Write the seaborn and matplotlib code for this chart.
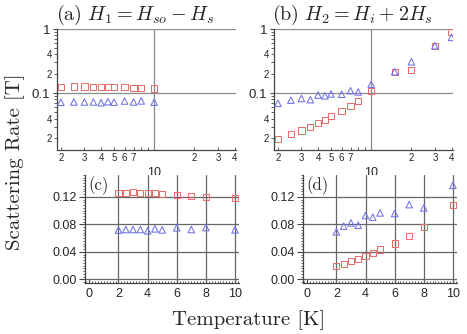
import numpy as np
import pandas as pd
import seaborn as sns
import matplotlib.pyplot as plt
from matplotlib.ticker import FixedLocator, FixedFormatter, MultipleLocator, NullFormatter

sns.set_style("ticks")
plt.rcParams['font.family'] = ['Liberation Sans', 'DejaVu Sans']
plt.rcParams['mathtext.fontset'] = 'cm'

# temperature points
temp_a = [2, 2.5, 3, 3.5, 4, 4.5, 5, 6, 7, 8, 10]
temp_b = [2, 2.5, 3, 3.5, 4, 4.5, 5, 6, 7, 8, 10, 15, 20, 30, 40]

# H1 = Hso - Hs
h1_sq = [0.1257, 0.1262, 0.1267, 0.1258, 0.1258, 0.1252, 0.1248, 0.1233, 0.1210, 0.1204, 0.1180]
h1_tri = [0.0716, 0.0725, 0.0725, 0.0725, 0.0706, 0.0735, 0.0720, 0.0750, 0.0725, 0.0754, 0.0720]

# H2 = Hi + 2Hs
h2_sq = [0.0193, 0.0227, 0.0261, 0.0295, 0.0343, 0.0382, 0.0435, 0.0522, 0.0634, 0.0759, 0.1088,
         0.215, 0.229, 0.548, 0.898]
h2_tri = [0.0692, 0.0774, 0.0822, 0.0788, 0.0929, 0.0904, 0.0967, 0.0958, 0.1088, 0.1040, 0.1369,
          0.215, 0.308, 0.548, 0.740]

red = '#e8706c'
blue = '#6f72e6'
W, H = 467, 334

fig = plt.figure(figsize=(W / 100, H / 100), dpi=100)

def px_axes(left, top, right, bottom):
    return fig.add_axes([left / W, 1 - bottom / H, (right - left) / W, (bottom - top) / H])

ax_a = px_axes(57.3, 29, 236, 150)
ax_b = px_axes(274.3, 29, 453, 150)
ax_c = px_axes(85.4, 175, 239.4, 282.7)
ax_d = px_axes(303.3, 175, 457.3, 282.7)


def draw(ax, x, ysq, ytri):
    df = pd.DataFrame({"T": x, "sq": ysq, "tri": ytri})
    sns.scatterplot(data=df, x="T", y="sq", ax=ax, marker='s', s=20,
                    facecolors='none', edgecolor=red, linewidth=0.75, zorder=3)
    sns.scatterplot(data=df, x="T", y="tri", ax=ax, marker='^', s=22,
                    facecolors='none', edgecolor=blue, linewidth=0.75, zorder=3)
    ax.set_xlabel("")
    ax.set_ylabel("")
    for side in ['top', 'right']:
        ax.spines[side].set_visible(False)
    for side in ['left', 'bottom']:
        ax.spines[side].set_color('#444444')
        ax.spines[side].set_linewidth(0.9)


# top: log-log
for ax, x, ysq, ytri in [(ax_a, temp_a, h1_sq, h1_tri), (ax_b, temp_b, h2_sq, h2_tri)]:
    draw(ax, x, ysq, ytri)
    ax.set_xscale('log')
    ax.set_yscale('log')
    ax.set_xlim(1.88, 41)
    ax.set_ylim(0.0129, 1.0)
    ax.xaxis.set_major_locator(FixedLocator([10]))
    ax.xaxis.set_major_formatter(FixedFormatter(['10']))
    xmin = [2, 3, 4, 5, 6, 7, 8, 9, 20, 30, 40]
    ax.xaxis.set_minor_locator(FixedLocator(xmin))
    ax.xaxis.set_minor_formatter(FixedFormatter(['2', '3', '4', '5', '6', '7', '', '', '2', '3', '4']))
    ax.yaxis.set_major_locator(FixedLocator([0.1, 1]))
    ax.yaxis.set_major_formatter(FixedFormatter(['0.1', '1']))
    ymin = [0.02, 0.03, 0.04, 0.05, 0.06, 0.07, 0.08, 0.09,
            0.2, 0.3, 0.4, 0.5, 0.6, 0.7, 0.8, 0.9]
    ax.yaxis.set_minor_locator(FixedLocator(ymin))
    ax.yaxis.set_minor_formatter(FixedFormatter(['2', '', '4', '', '', '', '', '',
                                                 '2', '', '4', '', '', '', '', '']))
    ax.tick_params(axis='x', which='major', labelsize=9, pad=12, length=0)
    ax.tick_params(axis='x', which='minor', labelsize=7, pad=2, length=2, direction='in', color='#444444')
    ax.tick_params(axis='y', which='major', labelsize=9.5, pad=2, length=3, color='#444444')
    ax.tick_params(axis='y', which='minor', labelsize=7, pad=2, length=2, color='#444444')
    ax.grid(True, which='major', color='#8a8a8a', linewidth=0.9)
    ax.set_axisbelow(True)

# bottom: linear
for ax, x, ysq, ytri in [(ax_c, temp_a, h1_sq, h1_tri), (ax_d, temp_a, h2_sq[:11], h2_tri[:11])]:
    draw(ax, x, ysq, ytri)
    ax.set_xlim(-0.27, 10.3)
    ax.set_ylim(-0.005, 0.152)
    ax.xaxis.set_major_locator(MultipleLocator(2))
    ax.xaxis.set_minor_locator(MultipleLocator(0.2))
    ax.yaxis.set_major_locator(FixedLocator([0.0, 0.04, 0.08, 0.12]))
    ax.yaxis.set_major_formatter(FixedFormatter(['0.00', '0.04', '0.08', '0.12']))
    ax.yaxis.set_minor_locator(MultipleLocator(0.004))
    ax.tick_params(axis='both', which='major', labelsize=9, color='#444444')
    ax.tick_params(axis='x', which='major', length=3, direction='in', pad=4)
    ax.tick_params(axis='x', which='minor', length=1.8, direction='in', color='#444444')
    ax.tick_params(axis='y', which='major', length=4, pad=2)
    ax.tick_params(axis='y', which='minor', length=1.8, color='#444444')
    for v in [2, 4, 6, 8, 10]:
        ax.axvline(v, color='#666666', linewidth=0.9, zorder=1)
    for v in [0.0, 0.04, 0.08, 0.12]:
        ax.axhline(v, color='#666666', linewidth=0.9, zorder=1)

cm = {'fontfamily': 'cmr10'}
fig.text(0.289, 0.955, r'$\mathrm{(a)}\ H_1 = H_{so} - H_s$', ha='center', va='center', fontsize=14.5)
fig.text(0.754, 0.955, r'$\mathrm{(b)}\ H_2 = H_i + 2H_s$', ha='center', va='center', fontsize=14.5)
ax_c.text(0.02, 0.985, '(c)', transform=ax_c.transAxes, ha='left', va='top', fontsize=12, **cm)
ax_d.text(0.02, 0.985, '(d)', transform=ax_d.transAxes, ha='left', va='top', fontsize=12, **cm)
fig.text(0.032, 0.515, 'Scattering Rate [T]', rotation=90, ha='center', va='center', fontsize=15, **cm)
fig.text(0.533, 0.042, 'Temperature [K]', ha='center', va='center', fontsize=15, **cm)

fig.savefig('out.png', dpi=100)
